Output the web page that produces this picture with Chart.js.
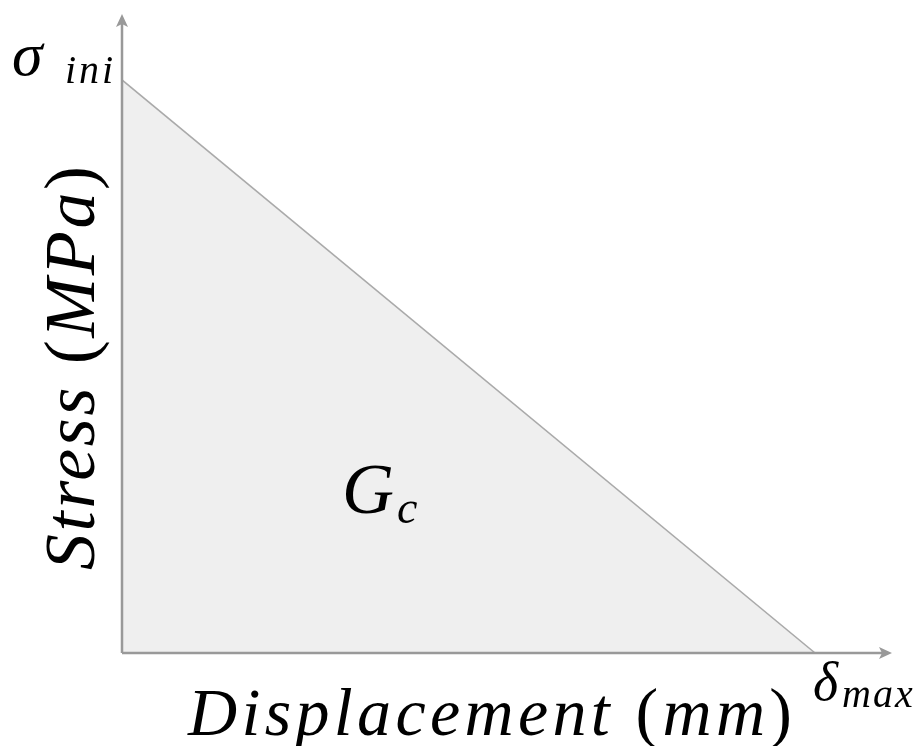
<!DOCTYPE html>
<html>
<head>
<meta charset="utf-8">
<script src="https://cdn.jsdelivr.net/npm/chart.js@4"></script>
</head>
<body style="margin:0">
<canvas id="probe" width="1" height="1" style="position:absolute;left:0;top:0"></canvas>
<div style="width:923px;height:746px"><canvas id="chart"></canvas></div>
<script>
// Linear softening law: stress drops from sigma_ini to zero at delta_max
const displacement = [0, 1];      // 0 .. delta_max
const stress = [1, 0];            // sigma_ini .. 0
const axisMax = { x: 1.111, y: 1.115 };

// glyphs are set at a base size and scaled up with the transform
const BASE = 44;
const serif = '"Liberation Serif"';

function fontFor(italic) {
    return (italic ? 'italic ' : '') + BASE + 'px ' + serif;
}

// warm up the serif faces before the chart draws (text lands outside the 1px canvas)
const probe = document.getElementById('probe').getContext('2d');
probe.font = fontFor(true);
probe.fillText('Displacement (mm) σδ', 10, 50);
probe.font = fontFor(false);
probe.fillText('()', 10, 50);

// one run of text at (x, y) with pixel size `size`; returns its width
function textRun(ctx, str, x, y, size, italic, spacing) {
    const k = size / BASE;
    ctx.save();
    ctx.translate(x, y);
    ctx.scale(k, k);
    ctx.font = fontFor(italic);
    ctx.letterSpacing = ((spacing || 0) / k) + 'px';
    ctx.fillText(str, 0, 0);
    const w = ctx.measureText(str).width * k;
    ctx.restore();
    return w;
}

function runWidth(ctx, str, size, italic) {
    ctx.save();
    ctx.font = fontFor(italic);
    ctx.letterSpacing = '0px';
    const w = ctx.measureText(str).width * size / BASE;
    ctx.restore();
    return w;
}

// italic letters with upright brackets, spread to fill `width`
function drawSpread(ctx, str, x, y, size, width) {
    const runs = str.split(/([()])/).filter(s => s).map(s => ({ t: s, it: !/[()]/.test(s) }));
    let natural = 0, chars = 0;
    runs.forEach(r => { natural += runWidth(ctx, r.t, size, r.it); chars += r.t.length; });
    const gap = (width - natural) / (chars - 1);
    runs.forEach(r => { x += textRun(ctx, r.t, x, y, size, r.it, gap); });
}

const axesPlugin = {
    id: 'axesArrows',
    afterDraw(chart) {
        const ctx = chart.ctx;
        const xs = chart.scales.x, ys = chart.scales.y;
        const x0 = xs.getPixelForValue(0), y0 = ys.getPixelForValue(0);
        const xEnd = xs.getPixelForValue(axisMax.x), yEnd = ys.getPixelForValue(axisMax.y);
        ctx.save();
        ctx.strokeStyle = '#999999';
        ctx.fillStyle = '#999999';
        ctx.lineWidth = 2.5;
        ctx.beginPath();
        ctx.moveTo(x0, y0);
        ctx.lineTo(xEnd - 6, y0);
        ctx.moveTo(x0, y0);
        ctx.lineTo(x0, yEnd + 6);
        ctx.stroke();
        // arrow heads
        ctx.beginPath();
        ctx.moveTo(xEnd, y0);
        ctx.lineTo(xEnd - 13, y0 - 6);
        ctx.lineTo(xEnd - 10, y0);
        ctx.lineTo(xEnd - 13, y0 + 6);
        ctx.closePath();
        ctx.fill();
        ctx.beginPath();
        ctx.moveTo(x0, yEnd);
        ctx.lineTo(x0 - 6, yEnd + 13);
        ctx.lineTo(x0, yEnd + 10);
        ctx.lineTo(x0 + 6, yEnd + 13);
        ctx.closePath();
        ctx.fill();

        // axis titles
        ctx.fillStyle = '#000';
        drawSpread(ctx, 'Displacement (mm)', 188, 735, 68, 604);
        ctx.save();
        ctx.translate(94, 570);
        ctx.rotate(-Math.PI / 2);
        drawSpread(ctx, 'Stress (MPa)', 0, 0, 72, 404);
        ctx.restore();

        // symbols
        const yTop = ys.getPixelForValue(stress[0]);
        const xRight = xs.getPixelForValue(displacement[1]);
        textRun(ctx, 'G', 342, 513, 72, true);
        textRun(ctx, 'c', 397, 523, 46, true);
        textRun(ctx, 'ini', 65, yTop + 3, 40, true, 3);
        textRun(ctx, 'max', 842, y0 + 54, 40, true, 2);
        textRun(ctx, 'σ', 12, yTop - 5, 62, true);
        textRun(ctx, 'δ', xRight - 2, y0 + 47, 54, true);
        ctx.restore();
    }
};

new Chart(document.getElementById('chart'), {
    type: 'line',
    data: {
        datasets: [{
            data: displacement.map((d, i) => ({ x: d, y: stress[i] })),
            borderColor: '#aaaaaa',
            borderWidth: 1.5,
            backgroundColor: '#efefef',
            fill: 'origin',
            pointRadius: 0,
            tension: 0
        }]
    },
    options: {
        responsive: true,
        maintainAspectRatio: false,
        animation: false,
        layout: { padding: { left: 122, right: 31, top: 14, bottom: 93 } },
        plugins: { legend: { display: false }, tooltip: { enabled: false } },
        scales: {
            x: { type: 'linear', min: 0, max: axisMax.x, display: false },
            y: { type: 'linear', min: 0, max: axisMax.y, display: false }
        }
    },
    plugins: [axesPlugin]
});
</script>
</body>
</html>
